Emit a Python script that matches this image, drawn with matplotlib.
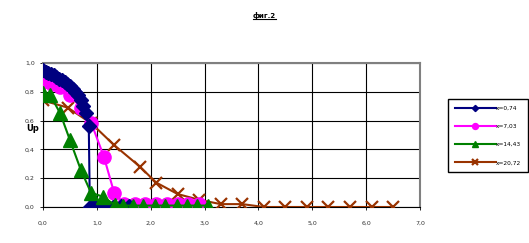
import numpy as np
import matplotlib.pyplot as plt
from matplotlib.lines import Line2D
from matplotlib.ticker import FuncFormatter, MultipleLocator

# series: x=0,74
x1 = [0.0, 0.05, 0.1, 0.15, 0.2, 0.25, 0.3, 0.35, 0.4, 0.45, 0.5, 0.55,
      0.6, 0.65, 0.7, 0.75, 0.8, 0.85, 0.87, 0.9, 0.95, 1.0, 1.05, 1.1,
      1.15, 1.2, 1.3, 1.45, 1.6]
y1 = [0.95, 0.94, 0.93, 0.925, 0.92, 0.905, 0.89, 0.88, 0.87, 0.855, 0.84,
      0.82, 0.8, 0.78, 0.74, 0.7, 0.65, 0.56, 0.0, 0.0, 0.0, 0.0, 0.0, 0.0,
      0.0, 0.0, 0.0, 0.01, 0.01]

# series: x=7,03
x2 = [0.0, 0.16, 0.32, 0.5, 0.7, 0.9, 1.13, 1.32, 1.5, 1.7, 1.9, 2.1, 2.3,
      2.5, 2.7, 2.9]
y2 = [0.87, 0.855, 0.83, 0.78, 0.69, 0.58, 0.35, 0.10, 0.02, 0.02, 0.02,
      0.02, 0.02, 0.02, 0.02, 0.02]

# series: x=14,43
x3 = [0.0, 0.13, 0.32, 0.5, 0.7, 0.89, 1.12, 1.33, 1.48, 1.67, 1.86, 2.08,
      2.26, 2.49, 2.67, 2.86, 3.06]
y3 = [0.79, 0.78, 0.65, 0.465, 0.26, 0.10, 0.07, 0.015, 0.01, 0.01, 0.01,
      0.01, 0.01, 0.01, 0.01, 0.01, 0.01]

# series: x=20,72
x4 = [0.0, 0.46, 0.9, 1.32, 1.8, 2.1, 2.5, 2.9, 3.3, 3.7, 4.1, 4.5, 4.9,
      5.3, 5.7, 6.1, 6.5]
y4 = [0.74, 0.69, 0.58, 0.43, 0.28, 0.17, 0.09, 0.05, 0.02, 0.02, 0.0, 0.0,
      0.0, 0.0, 0.0, 0.0, 0.0]

labels = ['x=0,74', 'x=7,03', 'x=14,43', 'x=20,72']

fig = plt.figure(figsize=(5.29, 2.43), dpi=100)
ax = fig.add_axes([43 / 529, 1 - 207 / 243, 377 / 529, 144 / 243])

ax.plot(x1, y1, color='#000080', lw=1.5, marker='D', ms=7,
        label=labels[0], zorder=5)
ax.plot(x2, y2, color='#FF00FF', lw=1.5, marker='o', ms=9.5,
        label=labels[1], zorder=4)
ax.plot(x3, y3, color='#008000', lw=1.5, marker='^', ms=9.5,
        label=labels[2], zorder=6)
ax.plot(x4, y4, color='#993300', lw=1.5, marker='x', ms=9, mew=1.6,
        label=labels[3], zorder=3)

ax.set_xlim(0, 7)
ax.set_ylim(0, 1)
ax.xaxis.set_major_locator(MultipleLocator(1))
ax.yaxis.set_major_locator(MultipleLocator(0.2))
fmt = FuncFormatter(lambda v, p: f'{v:.1f}'.replace('.', ','))
ax.xaxis.set_major_formatter(fmt)
ax.yaxis.set_major_formatter(fmt)
ax.tick_params(labelsize=4.5, labelcolor='#333333', length=2, width=0.6,
               direction='out')
ax.tick_params(axis='x', pad=8)
ax.tick_params(axis='y', pad=4)
ax.grid(True, color='black', lw=0.8)
ax.set_axisbelow(True)
for s in ('top', 'right'):
    ax.spines[s].set_color('#808080')
    ax.spines[s].set_linewidth(1.5)
for s in ('left', 'bottom'):
    ax.spines[s].set_color('black')
    ax.spines[s].set_linewidth(0.8)

fig.text(33 / 529, 1 - 128 / 243, 'Up', fontsize=6, fontweight='bold',
         ha='center', va='center')

fig.text(264 / 529, 1 - 15 / 243, 'фиг.2', fontsize=5, fontweight='bold',
         ha='center', va='center')
fig.add_artist(Line2D([253 / 529, 276 / 529], [1 - 19 / 243, 1 - 19 / 243],
                      color='black', lw=0.8))

leg = fig.legend(loc='upper left', bbox_to_anchor=(448 / 529, 1 - 99 / 243),
                 fontsize=4.2, handlelength=7.0, handletextpad=0.1,
                 labelspacing=2.25, borderpad=1.15, borderaxespad=0,
                 fancybox=False, framealpha=1, edgecolor='black',
                 markerscale=0.45)
leg.get_frame().set_linewidth(1.0)

fig.savefig('out.png', dpi=100)
